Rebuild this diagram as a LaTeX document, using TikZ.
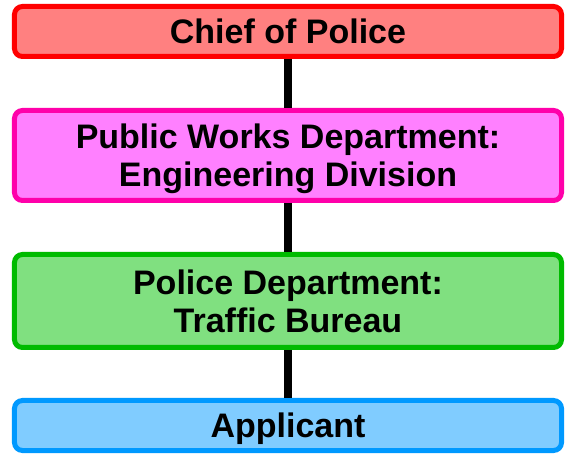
\documentclass[tikz,border=0pt]{standalone}
\usepackage{fontspec}
\setmainfont{Liberation Sans}
\usetikzlibrary{positioning}
\definecolor{chieffill}{HTML}{FF8080}
\definecolor{chiefline}{HTML}{FF0000}
\definecolor{worksfill}{HTML}{FF80FF}
\definecolor{worksline}{HTML}{FF00AA}
\definecolor{trafficfill}{HTML}{80E080}
\definecolor{trafficline}{HTML}{00BB00}
\definecolor{applfill}{HTML}{80CCFF}
\definecolor{applline}{HTML}{0099FF}
\tikzset{node distance=49pt, % Gap between the boxes
every box/.style={ % Sets the properties for each box
rounded corners=8pt,
line width=5pt,
minimum width=547pt,
align=center,
text depth=0pt, % Centre on the capitals, not on the descenders
font=\fontsize{34}{38}\selectfont\bfseries},
link/.style={ % Black bar between two boxes
draw,
line width=7.5pt}}

\begin{document}
\begin{tikzpicture}
                \useasboundingbox (-288pt,31.5pt) rectangle (277pt,-422.5pt);
                \node[every box, draw=chiefline, fill=chieffill, minimum height=50pt] (chief) at (0,0) {Chief of Police};
                \node[every box, draw=worksline, fill=worksfill, minimum height=90pt, below = of chief] (works) {Public Works Department:\\Engineering Division};
                \node[every box, draw=trafficline, fill=trafficfill, minimum height=93pt, below = of works] (traffic) {Police Department:\\Traffic Bureau};
                \node[every box, draw=applline, fill=applfill, minimum height=50pt, below = of traffic, yshift=1pt] (appl) {Applicant};
                
                \draw[link] (chief) -- (works)
                (works) -- (traffic)
                (traffic) -- (appl);
            \end{tikzpicture}
\end{document}
